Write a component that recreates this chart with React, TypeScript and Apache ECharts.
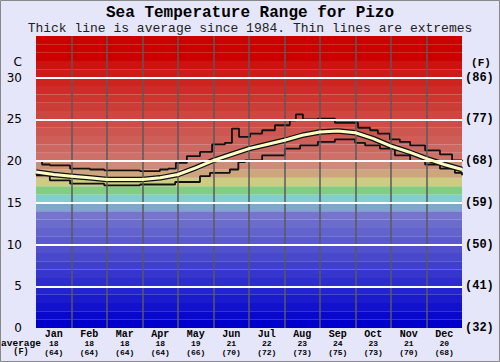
import React, { useEffect, useRef } from 'react';
import * as echarts from 'echarts';

const months = ['Jan', 'Feb', 'Mar', 'Apr', 'May', 'Jun', 'Jul', 'Aug', 'Sep', 'Oct', 'Nov', 'Dec'];
const avgC = [18, 18, 18, 18, 19, 21, 22, 23, 24, 23, 21, 20];
const avgF = [64, 64, 64, 64, 66, 70, 72, 73, 75, 73, 70, 68];
const celsiusTicks = [0, 5, 10, 15, 20, 25, 30];
const fahrenheitTicks = ['(32)', '(41)', '(50)', '(59)', '(68)', '(77)', '(86)'];

// positions in months from 1 Jan (0) to 31 Dec (12)
const maxX = [0, 0.17, 0.39, 0.96, 1.52, 1.92, 2.37, 2.93, 3.49, 3.72, 3.94, 4.25, 4.62, 4.96, 5.32, 5.52, 5.72, 6.03, 6.37, 6.73, 7.15, 7.32, 7.52, 7.94, 8.42, 8.79, 9.07, 9.41, 9.63, 9.97, 10.25, 10.54, 10.96, 11.38, 11.72, 12];
const maxT = [20.0, 19.6, 19.5, 19.1, 19.0, 18.9, 18.9, 18.8, 19.0, 19.1, 19.8, 20.6, 21.1, 22.0, 22.2, 23.9, 22.9, 23.3, 23.7, 24.3, 24.9, 25.6, 25.0, 25.1, 24.6, 24.6, 24.0, 23.7, 23.3, 22.6, 22.3, 21.9, 21.3, 20.8, 20.1, 20.0];

const minX = [0, 0.39, 0.96, 1.92, 2.93, 3.92, 4.62, 4.9, 5.46, 5.7, 5.89, 6.37, 7.01, 7.44, 7.94, 8.42, 8.99, 9.27, 9.69, 10.11, 10.54, 10.96, 11.38, 11.8, 12];
const minT = [18.3, 17.7, 17.3, 17.1, 17.2, 17.5, 18.2, 18.6, 19.0, 19.9, 20.1, 20.7, 21.5, 21.9, 22.3, 22.6, 22.2, 21.9, 21.5, 20.7, 20.0, 19.6, 19.1, 18.6, 18.3];

const avgX = [0, 0.5, 1, 1.5, 2, 2.5, 3, 3.5, 4, 4.5, 5, 5.5, 6, 6.5, 7, 7.5, 8, 8.5, 9, 9.5, 10, 10.5, 11, 11.5, 12];
const avgT = [18.7, 18.4, 18.2, 18.0, 17.8, 17.8, 17.8, 18.0, 18.4, 19.2, 20.1, 20.8, 21.5, 22.0, 22.5, 23.1, 23.5, 23.6, 23.4, 22.7, 21.8, 21.1, 20.3, 19.6, 19.0];

function bandColor(t: number): string {
  if (t >= 32) return 'rgb(204,0,0)';
  if (t >= 20) {
    const k = t - 20;
    const g = Math.round(112 - k * 8.5);
    const b = Math.round(104 - k * 8);
    return `rgb(205,${g},${b})`;
  }
  if (t === 19) return 'rgb(205,140,118)';
  if (t === 18) return 'rgb(205,166,126)';
  if (t === 17) return 'rgb(205,205,130)';
  if (t === 16) return 'rgb(130,205,130)';
  if (t === 15) return 'rgb(130,205,205)';
  if (t === 14) return 'rgb(128,166,205)';
  const v = Math.round(t * 9);
  return `rgb(${v},${v},205)`;
}

const font = 'Liberation Mono';

function labelAxis(data: string[], margin: number, size: number) {
  return {
    type: 'category',
    data,
    boundaryGap: true,
    position: 'bottom',
    axisLine: { show: false },
    axisTick: { show: false },
    splitLine: { show: false },
    axisLabel: {
      interval: 0,
      margin,
      fontFamily: font,
      fontWeight: 'bold',
      fontSize: size,
      lineHeight: size,
      color: '#000',
    },
  };
}

export default function App() {
  const ref = useRef<HTMLDivElement>(null);
  useEffect(() => {
    const chart = echarts.init(ref.current!, null, { renderer: 'svg' });
    const bands: any[] = [];
    for (let t = 0; t < 35; t++) {
      bands.push([{ yAxis: t, itemStyle: { color: bandColor(t) } }, { yAxis: t + 1 }]);
    }
    const grid: any[] = [];
    for (let m = 1; m < 12; m++) {
      grid.push({ xAxis: m, lineStyle: { color: '#5a5a5a', width: 1.5, type: 'solid' } });
    }
    for (const c of celsiusTicks) {
      if (c === 0) continue;
      grid.push({ yAxis: c, lineStyle: { color: '#fff', width: 2, type: 'solid' } });
    }
    const option: any = {
      animation: false,
      backgroundColor: '#e6e6fa',
      grid: { left: 36, right: 38, top: 36, bottom: 34 },
      xAxis: [
        labelAxis(months, 1, 10),
        { type: 'value', min: 0, max: 12, show: false },
        labelAxis(avgC.map(String), 11, 8),
        labelAxis(avgF.map((f) => `(${f})`), 20, 8),
      ],
      yAxis: [
        {
          type: 'value', min: 0, max: 35, interval: 5, position: 'left',
          axisLine: { show: false }, axisTick: { show: false }, splitLine: { show: false },
          axisLabel: {
            margin: 14, color: '#000', fontFamily: 'DejaVu Sans', fontSize: 12,
            formatter: (v: number) => (celsiusTicks.includes(v) ? String(v) : ''),
          },
        },
        {
          type: 'value', min: 0, max: 35, interval: 5, position: 'right',
          axisLine: { show: false }, axisTick: { show: false }, splitLine: { show: false },
          axisLabel: {
            margin: 3, color: '#000', fontFamily: font, fontWeight: 'bold', fontSize: 12,
            formatter: (v: number) => {
              const i = celsiusTicks.indexOf(v);
              return i >= 0 ? fahrenheitTicks[i] : '';
            },
          },
        },
      ],
      series: [
        {
          type: 'line', xAxisIndex: 1, yAxisIndex: 0, data: [], z: 1, silent: true,
          markArea: { silent: true, data: bands, itemStyle: { borderWidth: 0 }, label: { show: false } },
        },
        {
          type: 'line', xAxisIndex: 1, yAxisIndex: 0, data: [], z: 2, silent: true,
          markLine: { silent: true, symbol: 'none', label: { show: false }, data: grid },
        },
        {
          type: 'line', xAxisIndex: 1, yAxisIndex: 0, z: 3, step: 'end', symbol: 'none',
          data: maxX.map((x, i) => [x, maxT[i]]),
          lineStyle: { color: '#111', width: 1.8 },
        },
        {
          type: 'line', xAxisIndex: 1, yAxisIndex: 0, z: 3, step: 'end', symbol: 'none',
          data: minX.map((x, i) => [x, minT[i]]),
          lineStyle: { color: '#111', width: 1.8 },
        },
        {
          type: 'line', xAxisIndex: 1, yAxisIndex: 0, z: 4, symbol: 'none',
          data: avgX.map((x, i) => [x, avgT[i]]),
          lineStyle: { color: '#111', width: 5.5 },
        },
        {
          type: 'line', xAxisIndex: 1, yAxisIndex: 0, z: 5, symbol: 'none',
          data: avgX.map((x, i) => [x, avgT[i]]),
          lineStyle: { color: '#ffffc8', width: 3 },
        },
      ],
      graphic: [
        { type: 'rect', z: 100, shape: { x: 0.5, y: 0.5, width: 499, height: 361 }, style: { fill: 'none', stroke: '#888', lineWidth: 1 } },
        { type: 'text', x: 250, y: 13, style: { text: 'Sea Temperature Range for Pizo', font: `bold 16px "${font}"`, fill: '#000', align: 'center', verticalAlign: 'middle' } },
        { type: 'text', x: 250, y: 28, style: { text: 'Thick line is average since 1984. Thin lines are extremes', font: `13px "${font}"`, fill: '#222', align: 'center', verticalAlign: 'middle' } },
        { type: 'text', x: 22, y: 62, style: { text: 'C', font: '12px "DejaVu Sans"', fill: '#000', align: 'right', verticalAlign: 'middle' } },
        { type: 'text', x: 481, y: 63, style: { text: '(F)', font: `bold 11px "${font}"`, fill: '#000', align: 'center', verticalAlign: 'middle' } },
        { type: 'text', x: 21, y: 343, style: { text: 'average', font: `bold 9.5px "${font}"`, fill: '#000', align: 'center', verticalAlign: 'middle' } },
        { type: 'text', x: 21, y: 352, style: { text: '(F)', font: `bold 8.5px "${font}"`, fill: '#000', align: 'center', verticalAlign: 'middle' } },
      ],
    };
    chart.setOption(option);
    return () => chart.dispose();
  }, []);
  return <div ref={ref} style={{ position: 'fixed', left: 0, top: 0, width: 500, height: 362 }} />;
}
